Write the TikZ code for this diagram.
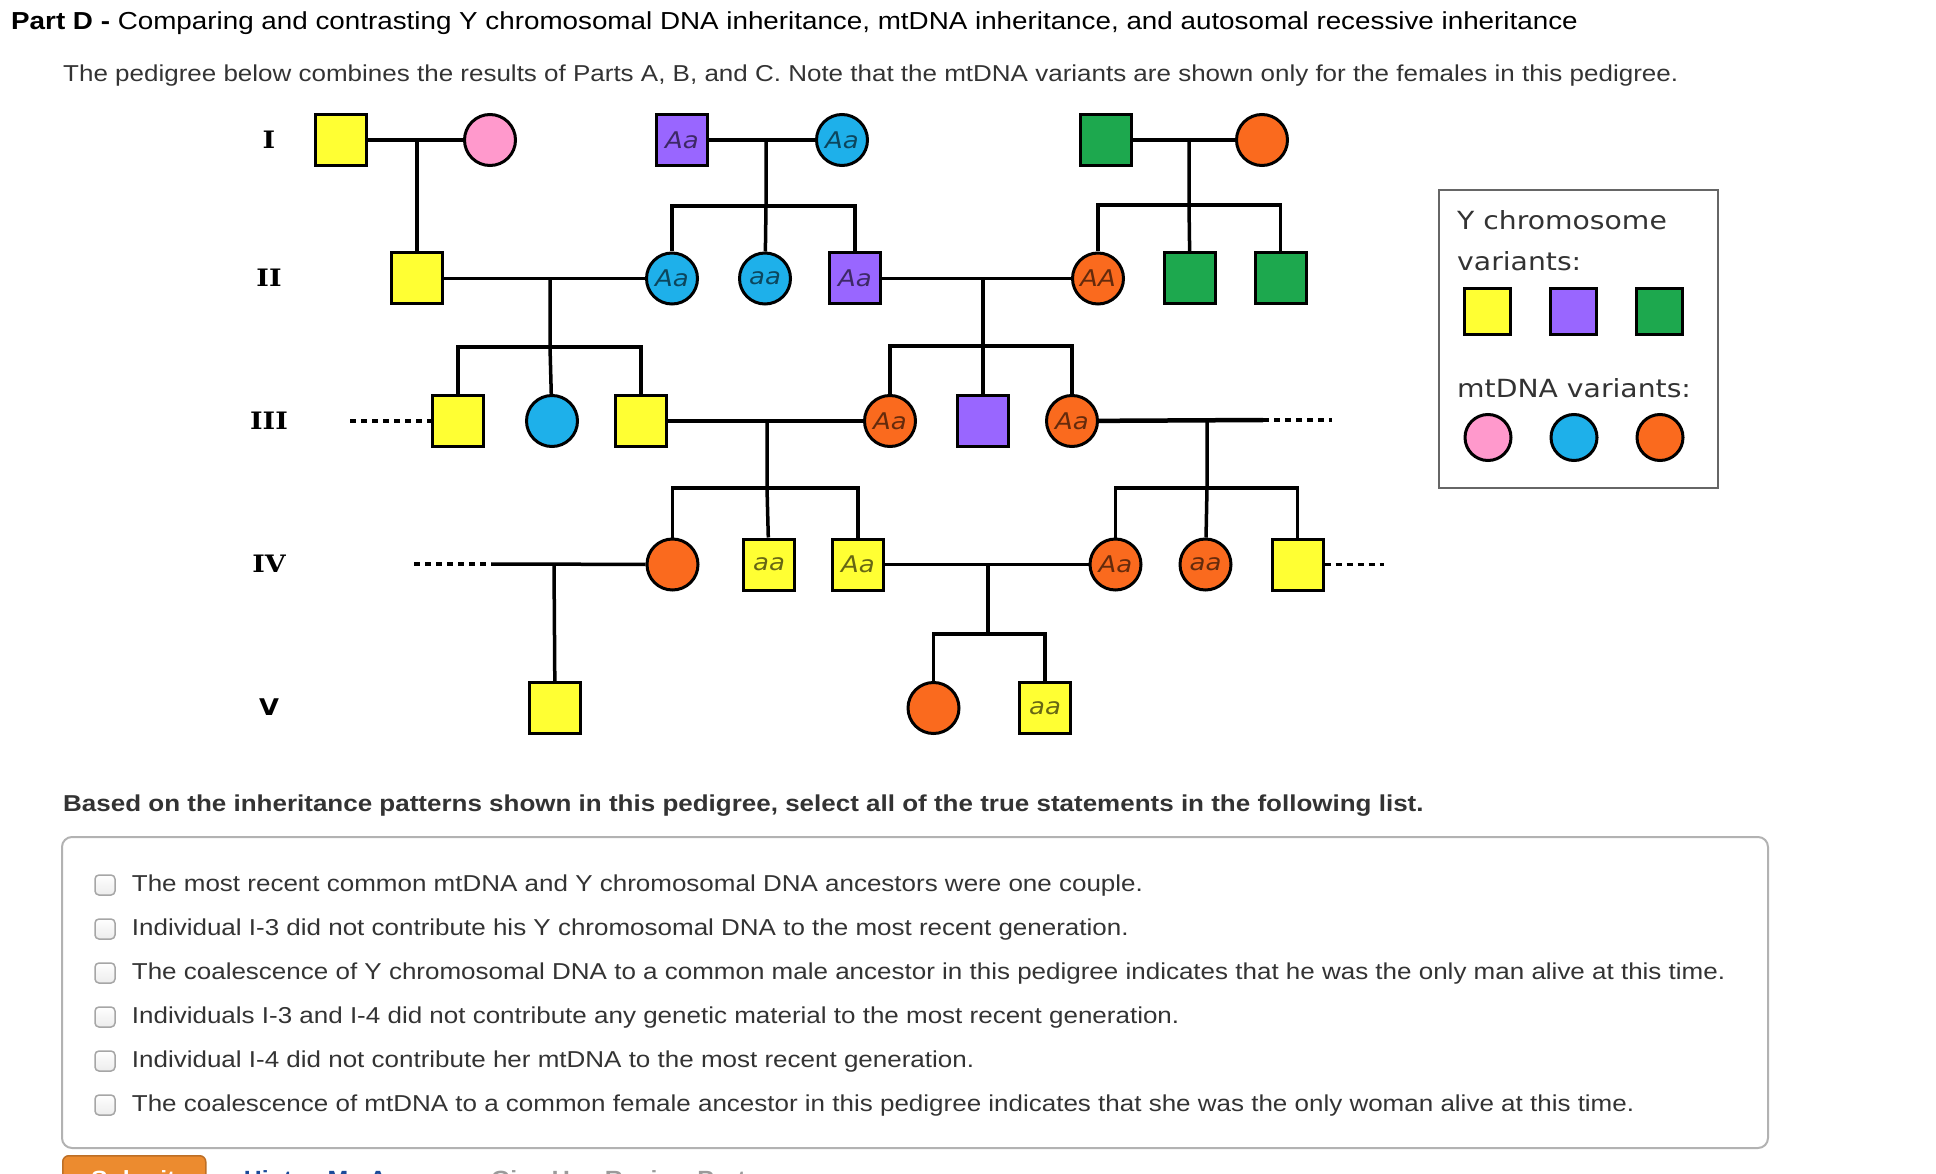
\documentclass[tikz,border=0pt]{standalone}
\usepackage{fontspec}
\setmainfont{Liberation Sans}[FakeStretch=1.13]
\newfontfamily\verdfont{DejaVu Sans}[FakeStretch=1.13]
\newfontfamily\genfont{DejaVu Serif}[FakeStretch=1.12]
\newfontfamily\gensans{DejaVu Sans}[FakeStretch=1.12]

\definecolor{yel}{HTML}{FFFF33}
\definecolor{pnk}{HTML}{FF99CC}
\definecolor{prp}{HTML}{9966FF}
\definecolor{blu}{HTML}{1EB0EA}
\definecolor{grn}{HTML}{1DA84E}
\definecolor{org}{HTML}{FA6A1E}
\definecolor{txtgray}{HTML}{333333}
\definecolor{btnorg}{HTML}{EC8B2F}
\definecolor{lnkblue}{HTML}{1B4A9A}
\definecolor{lnkgray}{HTML}{9A9A9A}

\tikzset{
  person/.style={draw, line width=3pt, minimum size=51pt, inner sep=0pt,
    text opacity=.6, font=\verdfont\itshape\fontsize{23}{23}\selectfont},
  male/.style={person, rectangle},
  female/.style={person, circle},
  keybox/.style={draw, line width=3pt, minimum size=46pt, inner sep=0pt},
  link/.style={line width=3.5pt},
  dotline/.style={line width=3.5pt, dash pattern=on 6pt off 5pt},
  genlab/.style={font=\genfont\bfseries\fontsize{24}{24}\selectfont},
  txt/.style={anchor=base west, inner sep=0pt, text=txtgray,
    font=\fontsize{23}{27}\selectfont},
  chk/.style={draw=gray!70, rounded corners=4pt, line width=1.5pt,
    minimum size=20pt, inner sep=0pt, top color=white, bottom color=gray!15}
}

\begin{document}
\begin{tikzpicture}[x=1pt,y=-1pt]
\path[use as bounding box] (0,0) rectangle (1936,1174);
\clip (0,0) rectangle (1936,1174);

% heading
\node[txt, text=black, font=\fontsize{24.6}{28}\selectfont] (title) at (11,30)
  {\textbf{Part D -} Comparing and contrasting Y chromosomal DNA inheritance, mtDNA inheritance, and autosomal recessive inheritance};
\node[txt] (intro) at (63,81.7)
  {The pedigree below combines the results of Parts A, B, and C. Note that the mtDNA variants are shown only for the females in this pedigree.};

% generation labels
\node[genlab] (gI) at (269,140) {I};
\node[genlab] (gII) at (269,278) {II};
\node[genlab] (gIII) at (269,421) {III};
\node[genlab] (gIV) at (269,564) {IV};
\node[genlab, font=\gensans\bfseries\fontsize{23}{23}\selectfont] (gV) at (269,707) {V};

% generation I
\node[male,fill=yel] (I1) at (341,140) {};
\node[female,fill=pnk] (I2) at (490,140) {};
\node[male,fill=prp] (I3) at (682,140) {Aa};
\node[female,fill=blu] (I4) at (842,140) {Aa};
\node[male,fill=grn] (I5) at (1106,140) {};
\node[female,fill=org] (I6) at (1262,140) {};

% generation II
\node[male,fill=yel] (II1) at (417,278.5) {};
\node[female,fill=blu] (II2) at (672,278.5) {Aa};
\node[female,fill=blu] (II3) at (765,278.5) {aa};
\node[male,fill=prp] (II4) at (855,278.5) {Aa};
\node[female,fill=org] (II5) at (1098,278.5) {AA};
\node[male,fill=grn] (II6) at (1190,278.5) {};
\node[male,fill=grn] (II7) at (1280.5,278.5) {};

% generation III
\node[male,fill=yel] (III1) at (458,421) {};
\node[female,fill=blu] (III2) at (552,421) {};
\node[male,fill=yel] (III3) at (641,421) {};
\node[female,fill=org] (III4) at (890,421) {Aa};
\node[male,fill=prp] (III5) at (983,421) {};
\node[female,fill=org] (III6) at (1072,421) {Aa};

% generation IV
\node[female,fill=org] (IV2) at (672.5,564.5) {};
\node[male,fill=yel] (IV3) at (769,564.5) {aa};
\node[male,fill=yel] (IV4) at (858,564.5) {Aa};
\node[female,fill=org] (IV5) at (1115.5,564.5) {Aa};
\node[female,fill=org] (IV6) at (1205.5,564.5) {aa};
\node[male,fill=yel] (IV7) at (1297.5,564.5) {};

% generation V
\node[male,fill=yel] (V1) at (555,708) {};
\node[female,fill=org] (V2) at (933.5,708) {};
\node[male,fill=yel] (V3) at (1045,708) {aa};

% mating and sibship points
\coordinate (m12) at (417,140);
\coordinate (m34) at (766,140);   \coordinate (s34) at (766,206);
\coordinate (m56) at (1189,140);  \coordinate (s56) at (1189,205);
\coordinate (mII12) at (550,279); \coordinate (sII12) at (550,347);
\coordinate (mII45) at (983,279); \coordinate (sII45) at (983,346);
\coordinate (mIII34) at (767,420);  \coordinate (sIII34) at (767,488);
\coordinate (eIII6) at (1263,420);  \coordinate (dIII6) at (1332,420);
\coordinate (mIII6) at (1207,420);  \coordinate (sIII6) at (1207,488);
\coordinate (dIII1) at (350,421);
\coordinate (dIV1) at (414,564);  \coordinate (eIV1) at (491,564);
\coordinate (mIV2) at (554,564);
\coordinate (mIV45) at (988,564); \coordinate (sIV45) at (988,634);
\coordinate (dIV7) at (1384,564.5);

% couples and children
\draw[link] (I1) -- (I2);
\draw[link] (m12) -- (II1);
\draw[link] (I3) -- (I4);
\draw[link] (m34) -- (s34) -- (II3);
\draw[link] (II2) |- (s34) -| (II4);
\draw[link] (I5) -- (I6);
\draw[link] (m56) -- (s56) -- (II6);
\draw[link] (II5) |- (s56) -| (II7);

\draw[link] (II1) -- (II2);
\draw[link] (mII12) -- (sII12) -- (III2);
\draw[link] (III1) |- (sII12) -| (III3);
\draw[link] (II4) -- (II5);
\draw[link] (mII45) -- (sII45) -- (III5);
\draw[link] (III4) |- (sII45) -| (III6);

\draw[dotline] (dIII1) -- (III1);
\draw[link, line width=4.5pt] (III3) -- (III4);
\draw[link] (mIII34) -- (sIII34) -- (IV3);
\draw[link] (IV2) |- (sIII34) -| (IV4);
\draw[link, line width=4.5pt] (III6) -- (eIII6);
\draw[dotline] (eIII6) -- (dIII6);
\draw[link] (mIII6) -- (sIII6) -- (IV6);
\draw[link] (IV5) |- (sIII6) -| (IV7);

\draw[dotline] (dIV1) -- (eIV1);
\draw[link] (eIV1) -- (IV2);
\draw[link] (mIV2) -- (V1);
\draw[link] (IV4) -- (IV5);
\draw[link] (mIV45) -- (sIV45);
\draw[link] (V2) |- (sIV45) -| (V3);
\draw[dotline] (IV7) -- (dIV7);

% legend
\draw[line width=2pt, draw=gray!80!black] (1439,190) rectangle (1718,488);
\begin{scope}[every node/.style={txt, font=\verdfont\fontsize{25}{25}\selectfont}]
\node (ky1) at (1457,230) {Y chromosome};
\node (ky2) at (1457,271) {variants:};
\node (kmt) at (1457,397) {mtDNA variants:};
\end{scope}
\node[keybox,fill=yel] (ky) at (1487,312) {};
\node[keybox,fill=prp] (kp) at (1573.5,312) {};
\node[keybox,fill=grn] (kg) at (1659.5,312) {};
\node[keybox,circle,fill=pnk] (kpk) at (1488,437.5) {};
\node[keybox,circle,fill=blu] (kb) at (1574,437.5) {};
\node[keybox,circle,fill=org] (ko) at (1660,437.5) {};

% question
\node[txt, font=\bfseries\fontsize{23}{27}\selectfont] (ask) at (63,811.7)
  {Based on the inheritance patterns shown in this pedigree, select all of the true statements in the following list.};
\draw[line width=2pt, draw=gray!60, rounded corners=10pt] (62,837) rectangle (1768,1148);
\foreach \s [count=\i from 0] in {
  {The most recent common mtDNA and Y chromosomal DNA ancestors were one couple.},
  {Individual I-3 did not contribute his Y chromosomal DNA to the most recent generation.},
  {The coalescence of Y chromosomal DNA to a common male ancestor in this pedigree indicates that he was the only man alive at this time.},
  {Individuals I-3 and I-4 did not contribute any genetic material to the most recent generation.},
  {Individual I-4 did not contribute her mtDNA to the most recent generation.},
  {The coalescence of mtDNA to a common female ancestor in this pedigree indicates that she was the only woman alive at this time.}}
{
  \node[chk] (c\i) at (105,{885+44*\i}) {};
  \node[txt] (st\i) at (131.7,{891.7+44*\i}) {\s};
}

% buttons
\node[draw=btnorg!80!black, fill=btnorg, line width=1.5pt, rounded corners=6pt,
  minimum width=143pt, minimum height=50pt, anchor=north west] (submit) at (62,1155) {};
\begin{scope}[every node/.style={anchor=base west, inner sep=0pt, font=\bfseries\fontsize{22}{22}\selectfont}]
\node[text=white] (subtxt) at (91,1186) {Submit};
\node[text=lnkblue] (hints) at (243.6,1186) {Hints};
\node[text=lnkblue] (myans) at (327.4,1186) {My Answers};
\node[text=lnkgray] (giveup) at (490.8,1186) {Give Up};
\node[text=lnkgray] (review) at (604.7,1186) {Review Part};
\end{scope}
\end{tikzpicture}
\end{document}
